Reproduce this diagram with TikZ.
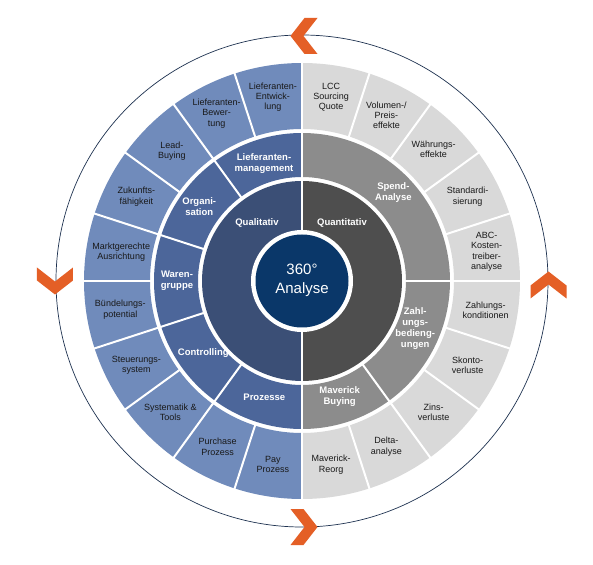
\documentclass[tikz,border=0pt]{standalone}
\usepackage{fontspec}
\setmainfont{Liberation Sans}
\definecolor{outerblue}{RGB}{112,139,187}
\definecolor{midblue}{RGB}{76,102,154}
\definecolor{innerblue}{RGB}{59,79,118}
\definecolor{centernavy}{RGB}{10,55,105}
\definecolor{outergrey}{RGB}{217,217,217}
\definecolor{midgrey}{RGB}{140,140,140}
\definecolor{innergrey}{RGB}{78,78,78}
\definecolor{chevorange}{RGB}{228,95,38}
\definecolor{ringline}{RGB}{30,50,80}
\newcommand\annsec[5]{\fill[#5] (#1:#3) arc[start angle=#1,end angle=#2,radius=#3] -- (#2:#4) arc[start angle=#2,end angle=#1,radius=#4] -- cycle;}
\newcommand\chevshape{(-13.5,18) -- (-0.5,18) -- (13.5,0) -- (-0.5,-18) -- (-13.5,-18) -- (0.5,0) -- cycle}
\begin{document}
\begin{tikzpicture}[x=1pt,y=1pt,
  olab/.style={align=center, font=\fontsize{9}{10.3}\selectfont, text=black!90, inner sep=0pt},
  mlab/.style={align=center, font=\bfseries\fontsize{9.5}{11}\selectfont, text=white, inner sep=0pt},
  clab/.style={align=center, font=\fontsize{15}{19}\selectfont, text=white, inner sep=0pt},
  divider/.style={white, line width=2pt},
  chev/.style={fill=chevorange}]
\useasboundingbox (-302,-283) rectangle (291,281);
\fill[white] (-302,-283) rectangle (291,281);
% outer thin circle
\draw[ringline, line width=0.7pt] (0,0) circle[radius=246];
% rings
\annsec{90}{270}{152}{218}{outerblue}
\annsec{-90}{90}{152}{218}{outergrey}
\annsec{90}{270}{104}{148}{midblue}
\annsec{-90}{90}{104}{148}{midgrey}
\fill[innerblue] (0,100) arc[start angle=90,end angle=270,radius=100] -- cycle;
\fill[innergrey] (0,-100) arc[start angle=-90,end angle=90,radius=100] -- cycle;
% dividers
\foreach \a in {108,126,144,162,180,198,216,234,252,72,54,36,18,0,-18,-36,-54,-72}
  \draw[divider] (\a:151) -- (\a:219);
\foreach \a in {126,162,198,234,0,-54}
  \draw[divider] (\a:103) -- (\a:149);
\draw[white, line width=2.4pt] (0,-220) -- (0,220);
% centre
\fill[white] (0,0) circle[radius=51];
\fill[centernavy] (0,0) circle[radius=46.5];
\node[clab] (centre) at (0,1) {360°\\Analyse};
% chevrons
\begin{scope}[shift={(2,245)},rotate=180] \fill[chev] \chevshape; \end{scope}
\begin{scope}[shift={(2,-246)}] \fill[chev] \chevshape; \end{scope}
\begin{scope}[shift={(-247,0)},rotate=-90] \fill[chev] \chevshape; \end{scope}
\begin{scope}[shift={(246.5,-4)},rotate=90] \fill[chev] \chevshape; \end{scope}
% inner labels
\node[mlab] (qual) at (-45,58) {Qualitativ};
\node[mlab] (quant) at (40,58) {Quantitativ};
% middle labels
\node[mlab] (m1) at (108:123) {Lieferanten-\\management};
\node[mlab] (m2) at (144:127) {Organi-\\sation};
\node[mlab] (m3) at (180:125) {Waren-\\gruppe};
\node[mlab] (m4) at (216:122) {Controlling};
\node[mlab] (m5) at (252:122) {Prozesse};
\node[mlab] (m6) at (44:127) {Spend-\\Analyse};
\node[mlab] (m7) at (-23:123) {Zahl-\\ungs-\\bedieng-\\ungen};
\node[mlab] (m8) at (-72:122) {Maverick\\Buying};
% outer labels
\node[olab] (o1) at (99:186) {Lieferanten-\\Entwick-\\lung};
\node[olab] (o2) at (117:188) {Lieferanten-\\Bewer-\\tung};
\node[olab] (o3) at (135:184) {Lead-\\Buying};
\node[olab] (o4) at (153:186) {Zukunfts-\\fähigkeit};
\node[olab] (o5) at (171:183) {Marktgerechte\\Ausrichtung};
\node[olab] (o6) at (189:184) {Bündelungs-\\potential};
\node[olab] (o7) at (207:186) {Steuerungs-\\system};
\node[olab] (o8) at (225:186) {Systematik \&\\Tools};
\node[olab] (o9) at (243:186) {Purchase\\Prozess};
\node[olab] (o10) at (261:186) {Pay\\Prozess};
\node[olab] (p1) at (81:186) {LCC\\Sourcing\\Quote};
\node[olab] (p2) at (63:186) {Volumen-/\\Preis-\\effekte};
\node[olab] (p3) at (45:186) {Währungs-\\effekte};
\node[olab] (p4) at (27:186) {Standardi-\\sierung};
\node[olab] (p5) at (9:187) {ABC-\\Kosten-\\treiber-\\analyse};
\node[olab] (p6) at (-9:186) {Zahlungs-\\konditionen};
\node[olab] (p7) at (-27:186) {Skonto-\\verluste};
\node[olab] (p8) at (-45:186) {Zins-\\verluste};
\node[olab] (p9) at (-63:186) {Delta-\\analyse};
\node[olab] (p10) at (-81:186) {Maverick-\\Reorg};
\end{tikzpicture}
\end{document}
